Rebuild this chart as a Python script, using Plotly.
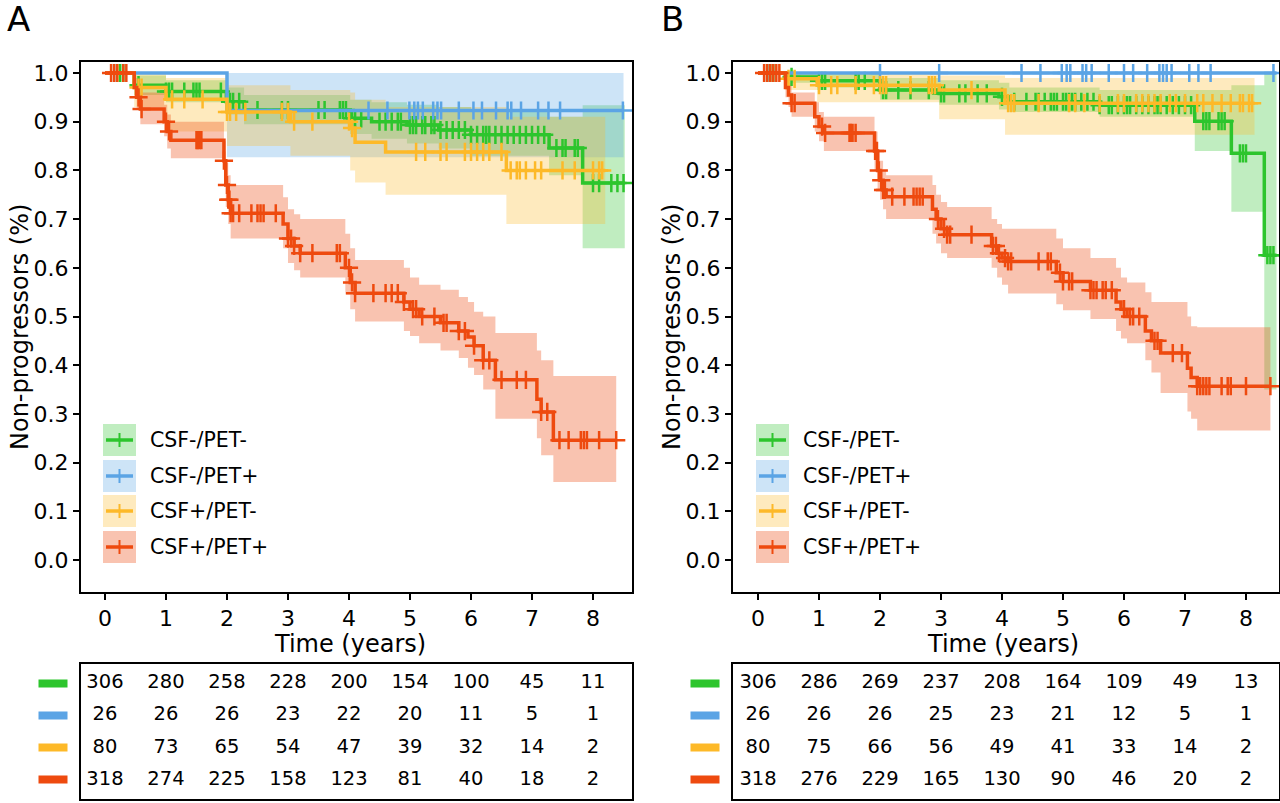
import numpy as np
import plotly.graph_objects as go

# ---------------- data ----------------
groups = ["CSF-/PET-", "CSF-/PET+", "CSF+/PET-", "CSF+/PET+"]
line_colors = ["#2dc52d", "#5ba4e5", "#fdb928", "#ee4a0f"]
band_colors = ["rgba(45,197,45,0.30)", "rgba(91,164,229,0.30)",
               "rgba(253,185,40,0.30)", "rgba(238,74,15,0.33)"]

risk_times = [0, 1, 2, 3, 4, 5, 6, 7, 8]
# panel A risk table
riskA_green = [306, 280, 258, 228, 200, 154, 100, 45, 11]
riskA_blue = [26, 26, 26, 23, 22, 20, 11, 5, 1]
riskA_yellow = [80, 73, 65, 54, 47, 39, 32, 14, 2]
riskA_red = [318, 274, 225, 158, 123, 81, 40, 18, 2]
# panel B risk table
riskB_green = [306, 286, 269, 237, 208, 164, 109, 49, 13]
riskB_blue = [26, 26, 26, 25, 23, 21, 12, 5, 1]
riskB_yellow = [80, 75, 66, 56, 49, 41, 33, 14, 2]
riskB_red = [318, 276, 229, 165, 130, 90, 46, 20, 2]

# ---- Panel A curves (step times, survival, CI low, CI high, end, censor times)
A_green_t = [0, 0.48, 1.0, 1.99, 2.28, 4.02, 4.37, 4.95, 5.47, 6.0, 7.28, 7.83]
A_green_s = [1, 0.975, 0.962, 0.941, 0.924, 0.907, 0.900, 0.893, 0.883, 0.873, 0.846, 0.774]
A_green_lo = [1, 0.955, 0.940, 0.915, 0.895, 0.875, 0.865, 0.855, 0.845, 0.830, 0.790, 0.640]
A_green_hi = [1, 0.995, 0.985, 0.970, 0.955, 0.945, 0.940, 0.935, 0.930, 0.925, 0.910, 0.934]
A_green_end = 8.52
A_green_cens = [0.2, 0.25, 0.3, 0.55, 1.0, 1.05, 1.1, 1.3, 1.45, 1.5, 1.55, 1.9, 2.05, 2.1, 2.2,
                2.5, 2.9, 3.0, 3.5, 3.6, 3.85, 3.9, 3.95, 4.05, 4.1, 4.2, 4.5, 4.6, 4.7, 4.8,
                4.85, 5.0, 5.05, 5.1, 5.2, 5.25, 5.35, 5.4, 5.5, 5.6, 5.7, 5.8, 5.9, 6.0, 6.1,
                6.2, 6.25, 6.3, 6.4, 6.5, 6.6, 6.7, 6.8, 6.9, 7.0, 7.1, 7.2, 7.4, 7.5, 7.55,
                7.7, 7.75, 8.0, 8.1, 8.3, 8.4, 8.5]

A_blue_t = [0, 2.0]
A_blue_s = [1, 0.923]
A_blue_lo = [1, 0.827]
A_blue_hi = [1, 1.0]
A_blue_end = 8.5
A_blue_cens = [0.15, 4.32, 4.63, 4.99, 5.07, 5.13, 5.21, 5.38, 5.45, 5.51, 5.80, 6.04, 6.18,
               6.41, 6.60, 6.66, 6.82, 7.10, 7.27, 7.46, 8.49]

A_yellow_t = [0, 0.48, 1.0, 2.0, 3.04, 4.02, 4.1, 4.6, 6.58]
A_yellow_s = [1, 0.970, 0.946, 0.920, 0.900, 0.887, 0.858, 0.838, 0.800]
A_yellow_lo = [1, 0.930, 0.880, 0.850, 0.830, 0.800, 0.775, 0.750, 0.690]
A_yellow_hi = [1, 1.0, 0.990, 0.975, 0.965, 0.960, 0.945, 0.930, 0.910]
A_yellow_end = 8.2
A_yellow_cens = [0.2, 0.55, 0.6, 1.1, 1.3, 1.6, 2.0, 2.05, 2.15, 2.3, 2.9, 3.0, 3.1, 3.4, 4.0,
                 4.05, 5.1, 5.25, 5.5, 5.6, 5.9, 6.0, 6.1, 6.2, 6.3, 6.5, 6.65, 6.75, 6.8, 6.9,
                 7.05, 7.15, 7.5, 7.7, 8.0, 8.1, 8.15]

A_red_t = [0, 0.48, 0.52, 0.58, 0.97, 1.02, 1.08, 1.95, 1.98, 2.02, 2.06, 2.92, 3.0, 3.1, 3.2,
           3.94, 4.02, 4.1, 4.9, 5.0, 5.15, 5.5, 5.8, 5.95, 6.05, 6.2, 6.4, 7.08, 7.15, 7.35]
A_red_s = [1, 0.970, 0.950, 0.926, 0.900, 0.880, 0.862, 0.820, 0.770, 0.740, 0.712, 0.690,
           0.660, 0.645, 0.630, 0.600, 0.570, 0.548, 0.530, 0.515, 0.500, 0.487, 0.470, 0.458,
           0.440, 0.410, 0.370, 0.330, 0.304, 0.246]
A_red_lo = [1, 0.950, 0.925, 0.895, 0.870, 0.845, 0.825, 0.780, 0.725, 0.690, 0.660, 0.640,
            0.610, 0.595, 0.580, 0.545, 0.515, 0.490, 0.470, 0.460, 0.445, 0.430, 0.415, 0.395,
            0.380, 0.350, 0.290, 0.250, 0.215, 0.160]
A_red_hi = [1, 0.990, 0.975, 0.960, 0.935, 0.915, 0.900, 0.860, 0.815, 0.790, 0.770, 0.745,
            0.720, 0.710, 0.700, 0.670, 0.640, 0.616, 0.600, 0.580, 0.565, 0.555, 0.540, 0.530,
            0.510, 0.500, 0.466, 0.430, 0.410, 0.378]
A_red_end = 8.38
A_red_cens = [0.1, 0.15, 0.2, 0.3, 0.35, 0.55, 0.6, 1.0, 1.05, 1.5, 1.52, 1.55, 1.58, 1.95, 2.0,
              2.02, 2.04, 2.06, 2.1, 2.2, 2.4, 2.5, 2.55, 2.6, 2.8, 3.0, 3.05, 3.1, 3.2, 3.4,
              3.8, 3.85, 4.0, 4.05, 4.1, 4.4, 4.6, 4.7, 4.8, 4.9, 5.05, 5.1, 5.2, 5.4, 5.55,
              5.6, 5.8, 5.9, 6.05, 6.2, 6.3, 6.5, 6.75, 6.9, 7.15, 7.25, 7.45, 7.6, 7.8, 7.85,
              7.9, 8.1, 8.38]

# ---- Panel B curves
B_green_t = [0, 0.45, 0.97, 2.0, 2.97, 3.95, 4.12, 5.6, 7.16, 7.76, 8.3]
B_green_s = [1, 0.992, 0.984, 0.965, 0.958, 0.951, 0.941, 0.934, 0.901, 0.835, 0.626]
B_green_lo = [1, 0.980, 0.970, 0.945, 0.935, 0.925, 0.920, 0.910, 0.840, 0.715, 0.350]
B_green_hi = [1, 1.0, 0.998, 0.990, 0.985, 0.980, 0.970, 0.965, 0.965, 0.975, 1.0]
B_green_end = 8.5
B_green_cens = [0.15, 0.2, 0.25, 0.55, 1.0, 1.05, 1.1, 1.6, 1.65, 1.75, 2.05, 2.1, 2.3, 2.5, 2.8,
                3.0, 3.05, 3.3, 3.4, 3.6, 3.75, 4.0, 4.2, 4.4, 4.55, 4.6, 4.7, 4.8, 4.85, 4.9,
                5.0, 5.05, 5.1, 5.15, 5.2, 5.3, 5.4, 5.5, 5.6, 5.75, 5.8, 5.9, 6.0, 6.05, 6.1,
                6.2, 6.3, 6.4, 6.5, 6.55, 6.6, 6.7, 6.8, 6.9, 7.0, 7.1, 7.3, 7.35, 7.4, 7.55,
                7.6, 7.65, 7.9, 7.95, 8.0, 8.35, 8.4, 8.45]

B_blue_t = [0]
B_blue_s = [1]
B_blue_lo = [1]
B_blue_hi = [1]
B_blue_end = 8.5
B_blue_cens = [0.15, 0.2, 2.0, 2.97, 4.32, 4.63, 4.98, 5.06, 5.12, 5.32, 5.38, 5.47, 5.75, 6.0,
               6.15, 6.38, 6.58, 6.64, 6.7, 6.78, 7.07, 7.22, 7.42, 8.45]

B_yellow_t = [0, 0.45, 0.97, 2.97, 4.05]
B_yellow_s = [1, 0.988, 0.975, 0.965, 0.938]
B_yellow_lo = [1, 0.965, 0.940, 0.905, 0.873]
B_yellow_hi = [1, 1.0, 1.0, 0.995, 0.990]
B_yellow_end = 8.14
B_yellow_cens = [0.2, 0.5, 0.6, 1.0, 1.2, 1.3, 1.6, 1.9, 2.0, 2.05, 2.1, 2.5, 2.8, 2.85, 2.9,
                 3.5, 4.1, 4.15, 4.2, 4.6, 5.1, 5.2, 5.35, 5.6, 5.9, 6.0, 6.2, 6.3, 6.4, 6.5,
                 6.6, 6.75, 6.85, 7.0, 7.2, 7.3, 7.45, 7.6, 7.75, 7.9, 7.95, 8.05, 8.1]

B_red_t = [0, 0.45, 0.5, 0.55, 0.93, 1.0, 1.08, 1.91, 1.96, 2.0, 2.05, 2.1, 2.86, 2.92, 3.0,
           3.1, 3.83, 3.92, 4.0, 4.1, 4.89, 5.0, 5.45, 5.87, 5.95, 6.05, 6.35, 6.45, 6.6,
           7.04, 7.1, 7.2]
B_red_s = [1, 0.970, 0.955, 0.938, 0.910, 0.890, 0.877, 0.840, 0.800, 0.780, 0.760, 0.746,
           0.720, 0.700, 0.680, 0.668, 0.645, 0.630, 0.620, 0.613, 0.590, 0.572, 0.554, 0.530,
           0.515, 0.500, 0.470, 0.450, 0.425, 0.394, 0.375, 0.357]
B_red_lo = [1, 0.950, 0.930, 0.910, 0.880, 0.860, 0.840, 0.800, 0.760, 0.740, 0.720, 0.700,
            0.670, 0.650, 0.630, 0.620, 0.600, 0.580, 0.565, 0.547, 0.525, 0.513, 0.495, 0.470,
            0.455, 0.445, 0.410, 0.385, 0.343, 0.305, 0.290, 0.266]
B_red_hi = [1, 0.990, 0.980, 0.960, 0.940, 0.920, 0.910, 0.880, 0.840, 0.820, 0.800, 0.790,
            0.770, 0.750, 0.735, 0.725, 0.700, 0.690, 0.680, 0.680, 0.660, 0.640, 0.620, 0.600,
            0.580, 0.570, 0.550, 0.530, 0.530, 0.500, 0.480, 0.478]
B_red_end = 8.4
B_red_cens = [0.1, 0.15, 0.2, 0.25, 0.3, 0.35, 0.55, 0.6, 1.05, 1.1, 1.5, 1.52, 1.55, 1.6, 1.92,
              1.95, 1.98, 2.02, 2.05, 2.08, 2.2, 2.4, 2.55, 2.6, 2.65, 2.7, 2.95, 3.05, 3.1,
              3.15, 3.5, 3.85, 3.9, 3.95, 4.05, 4.1, 4.15, 4.6, 4.75, 4.8, 4.95, 5.0, 5.1,
              5.15, 5.45, 5.5, 5.55, 5.65, 5.7, 5.8, 6.0, 6.1, 6.15, 6.25, 6.5, 6.55, 6.8,
              6.95, 7.2, 7.25, 7.3, 7.35, 7.4, 7.6, 7.7, 7.75, 8.0, 8.4]

panelA = [
    (A_green_t, A_green_s, A_green_lo, A_green_hi, A_green_end, A_green_cens),
    (A_blue_t, A_blue_s, A_blue_lo, A_blue_hi, A_blue_end, A_blue_cens),
    (A_yellow_t, A_yellow_s, A_yellow_lo, A_yellow_hi, A_yellow_end, A_yellow_cens),
    (A_red_t, A_red_s, A_red_lo, A_red_hi, A_red_end, A_red_cens),
]
panelB = [
    (B_green_t, B_green_s, B_green_lo, B_green_hi, B_green_end, B_green_cens),
    (B_blue_t, B_blue_s, B_blue_lo, B_blue_hi, B_blue_end, B_blue_cens),
    (B_yellow_t, B_yellow_s, B_yellow_lo, B_yellow_hi, B_yellow_end, B_yellow_cens),
    (B_red_t, B_red_s, B_red_lo, B_red_hi, B_red_end, B_red_cens),
]
riskA = [riskA_green, riskA_blue, riskA_yellow, riskA_red]
riskB = [riskB_green, riskB_blue, riskB_yellow, riskB_red]

# ---------------- figure ----------------
W, H = 1280, 803
FONT = "DejaVu Sans, Arial, sans-serif"
fig = go.Figure()


def step_polygon(t, lo, hi, end):
    edges = list(t) + [end]
    xu, yu, xl, yl = [], [], [], []
    for i in range(len(t)):
        xu += [edges[i], edges[i + 1]]
        yu += [hi[i], hi[i]]
        xl += [edges[i], edges[i + 1]]
        yl += [lo[i], lo[i]]
    return xu + xl[::-1], yu + yl[::-1]


def add_panel(data, xa, ya):
    for g, (t, s, lo, hi, end, cens) in enumerate(data):
        px, py = step_polygon(t, lo, hi, end)
        fig.add_trace(go.Scatter(x=px, y=py, fill="toself", fillcolor=band_colors[g],
                                 line=dict(width=0), mode="lines", hoverinfo="skip",
                                 showlegend=False, xaxis=xa, yaxis=ya))
    for g, (t, s, lo, hi, end, cens) in enumerate(data):
        fig.add_trace(go.Scatter(x=list(t) + [end], y=list(s) + [s[-1]], mode="lines",
                                 line=dict(color=line_colors[g], width=3.5, shape="hv"),
                                 showlegend=False, xaxis=xa, yaxis=ya))
        ta = np.array(t)
        idx = np.searchsorted(ta, np.array(cens), side="right") - 1
        cy = np.array(s)[idx]
        fig.add_trace(go.Scatter(x=cens, y=cy, mode="markers",
                                 marker=dict(symbol="cross-thin", size=13,
                                             line=dict(color=line_colors[g], width=2.5)),
                                 showlegend=False, xaxis=xa, yaxis=ya))


add_panel(panelA, "x", "y")
add_panel(panelB, "x2", "y2")


def add_table(risk, xa, ya):
    for g, vals in enumerate(risk):
        fig.add_trace(go.Scatter(x=risk_times, y=[g] * len(risk_times), mode="text",
                                 text=[str(v) for v in vals],
                                 textfont=dict(family=FONT, size=19.5, color="black"),
                                 cliponaxis=False, showlegend=False, xaxis=xa, yaxis=ya))


add_table(riskA, "x3", "y3")
add_table(riskB, "x4", "y4")


def px_x(p):
    return p / W


def px_y(p):
    return 1 - p / H


plot_dom_y = [px_y(592), px_y(62)]
tab_dom_y = [px_y(799), px_y(664)]
domA = [px_x(81), px_x(632)]
domB = [px_x(733), px_x(1279)]
xrangeA = [-0.393, 8.639]
xrangeB = [-0.41, 8.541]
yrange = [-0.0657, 1.0226]

tickfont = dict(family=FONT, size=22, color="black")
titlefont = dict(family=FONT, size=24, color="black")
axis_common = dict(showline=True, mirror=True, linecolor="black", linewidth=2,
                   showgrid=False, zeroline=False)


def xplot(dom, rng, anchor):
    return dict(domain=dom, range=rng, anchor=anchor, tickmode="array",
                tickvals=risk_times, ticks="outside", ticklen=6, tickwidth=1.5,
                tickcolor="black", tickfont=tickfont,
                **axis_common)


def yplot(anchor):
    return dict(domain=plot_dom_y, range=yrange, anchor=anchor, tickmode="array",
                tickvals=[i / 10 for i in range(11)],
                ticktext=["%.1f" % (i / 10) for i in range(11)],
                ticks="outside", ticklen=6, tickwidth=1.5, tickcolor="black",
                tickfont=tickfont,
                **axis_common)


def xtab(dom, rng, anchor):
    return dict(domain=dom, range=rng, anchor=anchor, showticklabels=False, ticks="",
                **axis_common)


def ytab(anchor):
    return dict(domain=tab_dom_y, range=[3.59, -0.59], anchor=anchor,
                showticklabels=False, ticks="", **axis_common)


fig.update_layout(
    width=W, height=H, margin=dict(l=0, r=0, t=0, b=0),
    paper_bgcolor="white", plot_bgcolor="white",
    font=dict(family=FONT, color="black"),
    xaxis=xplot(domA, xrangeA, "y"), yaxis=yplot("x"),
    xaxis2=xplot(domB, xrangeB, "y2"), yaxis2=yplot("x2"),
    xaxis3=xtab(domA, xrangeA, "y3"), yaxis3=ytab("x3"),
    xaxis4=xtab(domB, xrangeB, "y4"), yaxis4=ytab("x4"),
    showlegend=False,
)

shapes = []
annotations = []

# panel letters and axis titles
for letter, xc, ytitle_x, xtitle_x in (("A", 18, 20, 350), ("B", 672, 672, 1003)):
    annotations.append(dict(text=letter, x=px_x(xc), y=px_y(19), xref="paper", yref="paper",
                            xanchor="center", yanchor="middle", showarrow=False,
                            font=dict(family=FONT, size=34, color="black")))
    annotations.append(dict(text="Time (years)", x=px_x(xtitle_x), y=px_y(644),
                            xref="paper", yref="paper", xanchor="center", yanchor="middle",
                            showarrow=False, font=titlefont))
    annotations.append(dict(text="Non-progressors (%)", x=px_x(ytitle_x), y=px_y(327),
                            xref="paper", yref="paper", xanchor="center", yanchor="middle",
                            textangle=-90, showarrow=False, font=titlefont))

# in-plot legends
legend_rows = [440, 476, 511, 547]
for left in (103, 756):
    for g, yc in enumerate(legend_rows):
        shapes.append(dict(type="rect", xref="paper", yref="paper",
                           x0=px_x(left), x1=px_x(left + 33),
                           y0=px_y(yc + 16), y1=px_y(yc - 16),
                           fillcolor=band_colors[g], line=dict(width=0)))
        shapes.append(dict(type="line", xref="paper", yref="paper",
                           x0=px_x(left + 3), x1=px_x(left + 30), y0=px_y(yc), y1=px_y(yc),
                           line=dict(color=line_colors[g], width=3.5)))
        shapes.append(dict(type="line", xref="paper", yref="paper",
                           x0=px_x(left + 16.5), x1=px_x(left + 16.5),
                           y0=px_y(yc - 7), y1=px_y(yc + 7),
                           line=dict(color=line_colors[g], width=2)))
        annotations.append(dict(text=groups[g], x=px_x(left + 45), y=px_y(yc),
                                xref="paper", yref="paper", xanchor="left", yanchor="middle",
                                showarrow=False, font=dict(family=FONT, size=20.5, color="black")))

# risk table colour keys
for xc, ya in ((53, "y3"), (705, "y4")):
    for g in range(4):
        annotations.append(dict(text=" ", x=px_x(xc), y=g, xref="paper", yref=ya,
                                xanchor="center", yanchor="middle",
                                showarrow=False, width=28, height=7, borderpad=0,
                                bgcolor=line_colors[g], font=dict(size=5)))

fig.update_layout(shapes=shapes, annotations=annotations)
fig.write_html("out.html", config={"displayModeBar": False},
               post_script="document.body.style.margin='0px';")
